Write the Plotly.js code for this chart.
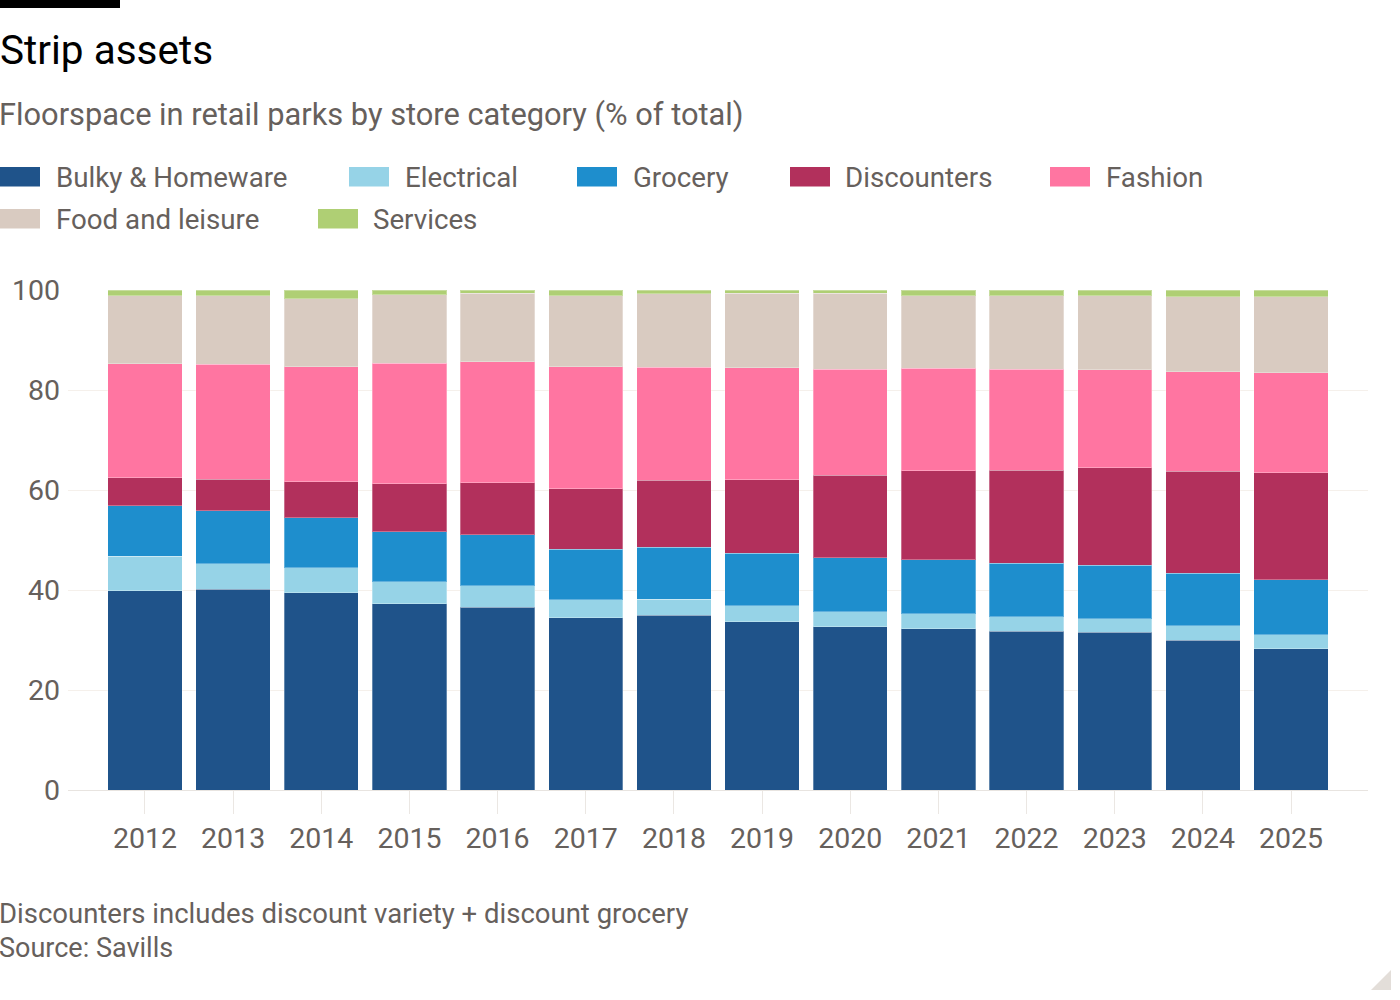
<!DOCTYPE html>
<html>
<head>
<meta charset="utf-8">
<script src="https://cdn.plot.ly/plotly-3.0.1.min.js"></script>
<style>
  html, body { margin: 0; padding: 0; background: #ffffff; }
  #chart { width: 1400px; height: 1000px; }
</style>
</head>
<body>
<div id="chart"></div>
<script>
// ---- Data ----
const years = ['2012','2013','2014','2015','2016','2017','2018','2019','2020','2021','2022','2023','2024','2025'];
const categories = ['Bulky & Homeware','Electrical','Grocery','Discounters','Fashion','Food and leisure','Services'];
const bulky       = [39.9,40.2,39.5,37.3,36.6,34.5,35.0,33.7,32.7,32.3,31.8,31.6,30.0,28.3];
const electrical  = [6.9,5.1,5.0,4.4,4.3,3.6,3.2,3.2,3.0,3.0,2.9,2.7,2.9,2.8];
const grocery     = [10.1,10.6,10.0,10.0,10.2,10.1,10.4,10.5,10.8,10.8,10.7,10.7,10.5,11.0];
const discounters = [5.6,6.3,7.2,9.6,10.4,12.1,13.4,14.7,16.5,17.8,18.6,19.5,20.4,21.4];
const fashion     = [22.8,23.0,23.0,24.1,24.2,24.4,22.6,22.4,21.2,20.5,20.2,19.6,19.9,20.0];
const food        = [13.6,13.7,13.6,13.7,13.7,14.2,14.7,14.9,15.2,14.5,14.7,14.8,15.0,15.2];
const services    = [1.1,1.1,1.7,0.9,0.6,1.1,0.7,0.6,0.6,1.1,1.1,1.1,1.3,1.3];
const yTicks = [0,20,40,60,80,100];

const seriesValues = [bulky, electrical, grocery, discounters, fashion, food, services];
const colors = ['#1f538a','#96d3e7','#1e8ecd','#b2305c','#ff75a1','#d9cbc1','#afcf74'];

// ---- Layout helpers (pixel -> paper) ----
const W = 1400, H = 1000;
const M = {l: 68, r: 32, t: 290, b: 210};
const PW = W - M.l - M.r, PH = H - M.t - M.b;
const px = v => (v - M.l) / PW;
const py = v => (H - M.b - v) / PH;

const FONT = 'Roboto, "Noto Sans", sans-serif';
const GREY = '#66605c';

const traces = categories.map((name, i) => ({
  type: 'bar',
  name: name,
  x: years,
  y: seriesValues[i],
  marker: {color: colors[i], line: {color: 'rgba(255,255,255,0.3)', width: 1}},
  hoverinfo: 'x+y+name',
  showlegend: false
}));

// Manual legend (large swatches like the original)
const legendPos = [
  {sx: 0,    tx: 54,   cy: 177},
  {sx: 349,  tx: 403,  cy: 177},
  {sx: 577,  tx: 631,  cy: 177},
  {sx: 790,  tx: 843,  cy: 177},
  {sx: 1050, tx: 1104, cy: 177},
  {sx: 0,    tx: 54,   cy: 219},
  {sx: 318,  tx: 371,  cy: 219}
];

const shapes = [];
const annotations = [];

// top black rule
shapes.push({type: 'rect', xref: 'paper', yref: 'paper',
  x0: px(0), x1: px(120), y0: py(0), y1: py(8),
  fillcolor: '#000000', line: {width: 0}});

categories.forEach((name, i) => {
  const p = legendPos[i];
  shapes.push({type: 'rect', xref: 'paper', yref: 'paper',
    x0: px(p.sx), x1: px(p.sx + 40), y0: py(p.cy - 10), y1: py(p.cy + 9.5),
    fillcolor: colors[i], line: {width: 0}});
  annotations.push({xref: 'paper', yref: 'paper', x: px(p.tx), y: py(p.cy),
    xanchor: 'left', yanchor: 'middle', showarrow: false, text: name,
    font: {family: FONT, size: 27.7, color: GREY}});
});

// subtitle
annotations.push({xref: 'paper', yref: 'paper', x: px(-3), y: py(115),
  xanchor: 'left', yanchor: 'middle', showarrow: false,
  text: 'Floorspace in retail parks by store category (% of total)',
  font: {family: FONT, size: 30.8, color: GREY}});

// footnotes
annotations.push({xref: 'paper', yref: 'paper', x: px(-3), y: py(913),
  xanchor: 'left', yanchor: 'middle', showarrow: false,
  text: 'Discounters includes discount variety + discount grocery',
  font: {family: FONT, size: 27.5, color: GREY}});
annotations.push({xref: 'paper', yref: 'paper', x: px(-3), y: py(948),
  xanchor: 'left', yanchor: 'middle', showarrow: false,
  text: 'Source: Savills',
  font: {family: FONT, size: 27, color: GREY}});

// corner triangle
shapes.push({type: 'path', xref: 'paper', yref: 'paper',
  path: `M ${px(1371)} ${py(990)} L ${px(1391)} ${py(970)} L ${px(1391)} ${py(990)} Z`,
  fillcolor: '#e3ded9', line: {width: 0}});

const layout = {
  width: W, height: H,
  margin: M,
  paper_bgcolor: '#ffffff',
  plot_bgcolor: '#ffffff',
  barmode: 'stack',
  bargap: 0.157,
  font: {family: FONT, color: GREY},
  title: {
    text: 'Strip assets',
    xref: 'container', yref: 'container',
    x: 0, xanchor: 'left',
    y: 1 - 50 / H, yanchor: 'middle',
    font: {family: FONT, size: 40.5, color: '#000000'}
  },
  xaxis: {
    type: 'category',
    range: [-0.873, years.length - 1 + 0.873],
    ticks: 'outside', ticklen: 23, tickcolor: '#ebe7e3', tickwidth: 1,
    tickfont: {family: FONT, size: 28.5, color: GREY},
    showgrid: false, showline: false, zeroline: false,
    fixedrange: true
  },
  yaxis: {
    range: [0, 100],
    tickvals: yTicks,
    ticktext: yTicks.map(String),
    showgrid: true, gridcolor: '#f5f0eb', gridwidth: 1,
    zeroline: true, zerolinecolor: '#e8e4e0', zerolinewidth: 1,
    showline: false, ticks: '',
    ticklabelstandoff: 7,
    tickfont: {family: FONT, size: 28.5, color: GREY},
    fixedrange: true
  },
  shapes: shapes,
  annotations: annotations,
  showlegend: false
};

Plotly.newPlot('chart', traces, layout, {displayModeBar: false, staticPlot: true});
</script>
</body>
</html>
